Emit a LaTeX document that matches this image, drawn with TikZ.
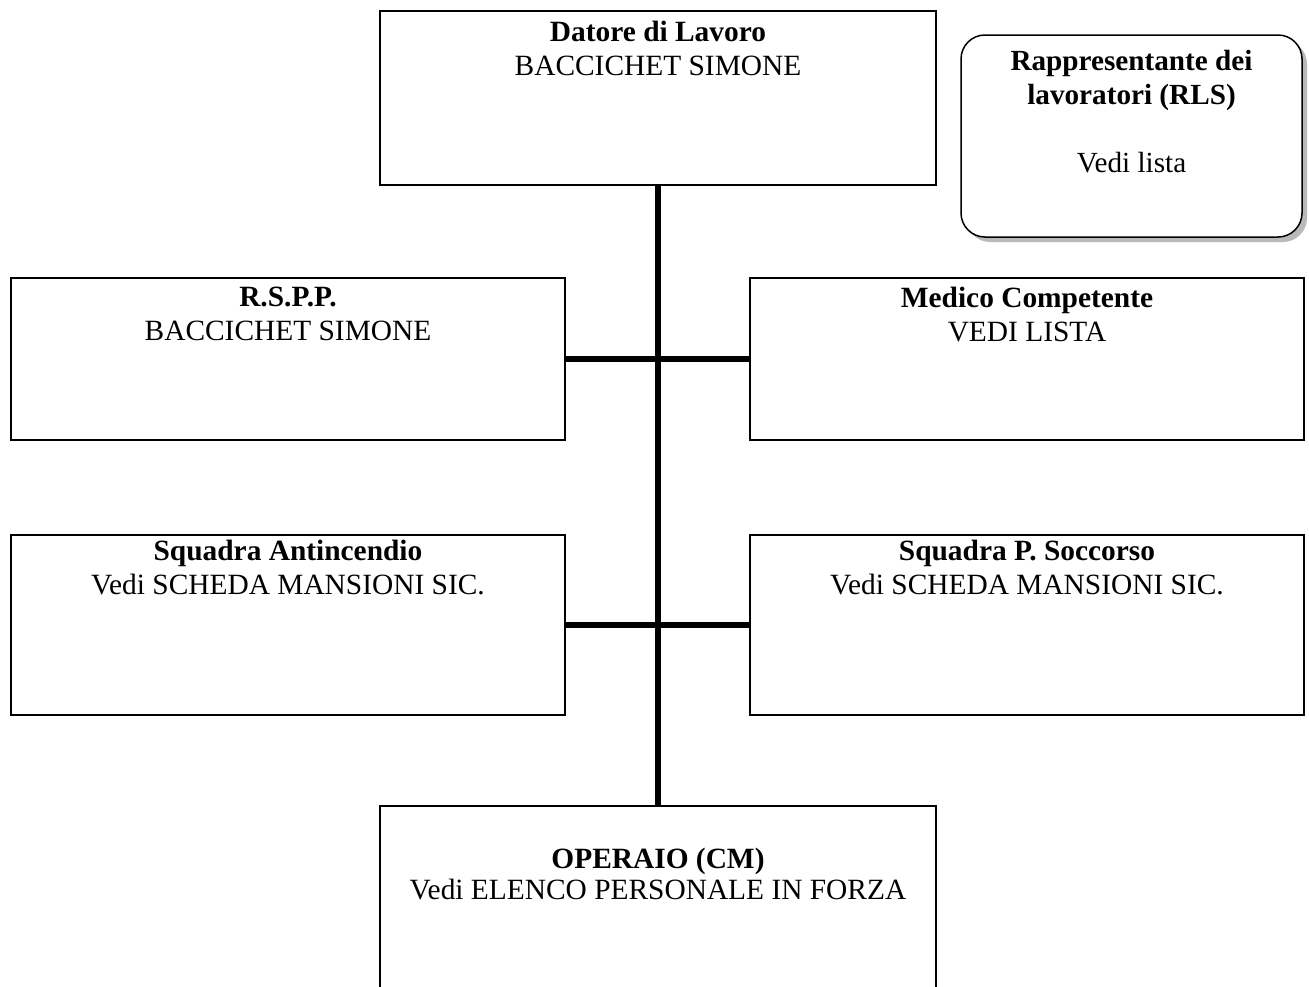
\documentclass[tikz,border=0pt]{standalone}
\usepackage{fontspec}
\setmainfont{Liberation Serif}
\usetikzlibrary{positioning,shadows}
\newcommand\bw{278pt}
\newcommand\sw{277pt}
\newcommand\htop{87pt}
\newcommand\hsx{81pt}
\newcommand\hsq{90pt}

\begin{document}
\begin{tikzpicture}[
    box/.style={draw, line width=0.75pt, inner sep=0pt, minimum width=\sw},
    rlsbox/.style={draw, line width=0.75pt, rounded corners=12pt, fill=white,
      minimum width=170.5pt, minimum height=101pt,
      drop shadow={shadow xshift=2.5pt, shadow yshift=-2.5pt, fill=gray!55, opacity=1}},
    txt/.style={align=center, inner sep=0pt, font=\fontsize{14.7}{17.3}\selectfont},
    trunk/.style={line width=3pt},
  ]
  \useasboundingbox (0,0) rectangle (654.5pt,-493pt);
  % boxes
  \node [box, minimum width=\bw, minimum height=\htop] (dl) at (329pt,-49pt) {};
  \node [rlsbox] (rls) at (565.75pt,-68pt) {};
  \node [box, minimum height=\hsx] (rspp) at (144pt,-179.5pt) {};
  \node [box, minimum height=\hsx] (mc) at (513.5pt,-179.5pt) {};
  \node [box, minimum height=\hsq] (sa) at (144pt,-312.5pt) {};
  \node [box, minimum height=\hsq] (sp) at (513.5pt,-312.5pt) {};
  \node [box, minimum width=\bw, minimum height=100pt] (op) at (329pt,-453pt) {};
  % texts
  \node [txt, below=5pt of dl.north] (dlt) {\textbf{Datore di Lavoro}\\BACCICHET SIMONE};
  \node [txt, font=\fontsize{14.6}{17}\selectfont, below=8pt of rls.north] (rlst)
    {\textbf{Rappresentante dei}\\\textbf{lavoratori (RLS)}\\[17pt]Vedi lista};
  \node [txt, below=4.5pt of rspp.north] (rsppt) {\textbf{R.S.P.P.}\\BACCICHET SIMONE};
  \node [txt, below=4.5pt of mc.north] (mct) {\textbf{Medico Competente}\\VEDI LISTA};
  \node [txt, below=2.5pt of sa.north] (sat) {\textbf{Squadra Antincendio}\\Vedi SCHEDA MANSIONI SIC.};
  \node [txt, below=2.5pt of sp.north] (spt) {\textbf{Squadra P. Soccorso}\\Vedi SCHEDA MANSIONI SIC.};
  \node [txt, font=\fontsize{14.7}{15.5}\selectfont, below=21pt of op.north] (opt)
    {\textbf{OPERAIO (CM)}\\Vedi ELENCO PERSONALE IN FORZA};
  % connectors
  \draw [trunk] (dl.south) -- (op.north);
  \draw [trunk] (rspp.east) -- (mc.west);
  \draw [trunk] (sa.east) -- (sp.west);
\end{tikzpicture}
\end{document}
